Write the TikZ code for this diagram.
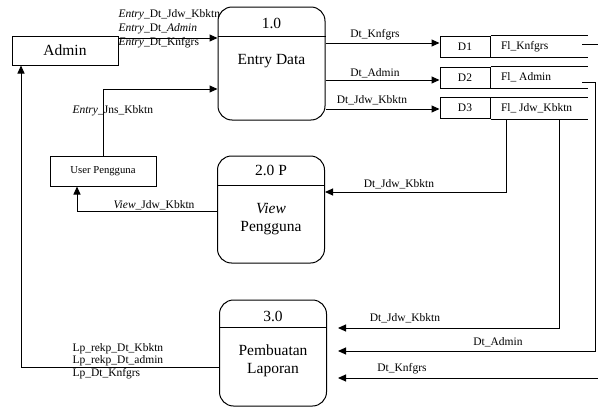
\documentclass[tikz,border=0pt]{standalone}
\usepackage{fontspec}
\setmainfont{Liberation Serif}
\usetikzlibrary{calc}
\usetikzlibrary{positioning}
\usetikzlibrary{arrows.meta}

\newcommand{\bigtxt}{\fontsize{15.5}{18}\selectfont}
\newcommand{\smalltxt}{\fontsize{11.5}{14}\selectfont}

\tikzset{
	entity/.style={draw, minimum width=106pt, minimum height=29pt, inner sep=0pt},
	process/.style={draw, rounded corners=14pt, minimum width=107pt, inner sep=0pt},
	cell/.style={draw, minimum width=50pt, minimum height=21pt, inner sep=0pt, font=\smalltxt},
	flow/.style={-{Triangle[length=8pt, width=7pt]}},
	lbl/.style={font=\smalltxt, inner sep=0pt},
}

\begin{document}
\begin{tikzpicture}[x=1pt, y=-1pt, line width=1pt]

	\useasboundingbox (0,0) rectangle (598,407);

% Define coordinates.

	%heights of the flows
	\coordinate (yEntry) at (0, 38);
	\coordinate (yJns) at (0, 89);
	\coordinate (yView) at (0, 211);
	\coordinate (yLp) at (0, 367);
	\coordinate (yKn) at (0, 43);
	\coordinate (yAd) at (0, 80);
	\coordinate (yJd) at (0, 109);
	\coordinate (yJd2) at (0, 192);
	\coordinate (yJd3) at (0, 328);
	\coordinate (yAd3) at (0, 351);
	\coordinate (yKn3) at (0, 378);

	%starts of the store lines
	\coordinate (s1) at (582, 44);
	\coordinate (s2) at (582, 82);

% Draw entities.

	\node[entity, font=\bigtxt] (admin) at (65, 50.5) {Admin};
	\node[entity, minimum height=30pt, font=\fontsize{10.7}{12}\selectfont] (user) at (103, 171) {User Pengguna};

% Draw processes.

	\node[process, minimum height=113pt] (p1) at (271.5, 63.5) {};
	\node[process, minimum height=107pt] (p2) at (271, 209.5) {};
	\node[process, minimum height=106pt] (p3) at (273, 353) {};

	\draw ([yshift=-30pt]p1.north west) -- ([yshift=-30pt]p1.north east);
	\draw ([yshift=-30pt]p2.north west) -- ([yshift=-30pt]p2.north east);
	\draw ([yshift=-28pt]p3.north west) -- ([yshift=-28pt]p3.north east);

	\node[font=\bigtxt] (p1num) at ([yshift=-17pt]p1.north) {1.0};
	\node[font=\bigtxt] (p2num) at ([yshift=-15pt]p2.north) {2.0 P};
	\node[font=\bigtxt] (p3num) at ([yshift=-17pt]p3.north) {3.0};

	\node[font=\bigtxt] (p1txt) at (271.5, 61) {Entry Data};
	\node[font=\bigtxt, align=center] (p2txt) at (271, 219) {\textit{View}\\Pengguna};
	\node[font=\bigtxt, align=center] (p3txt) at (273, 361) {Pembuatan\\Laporan};

% Draw data stores.

	\foreach \i/\y/\name in {1/46.5/Fl\_Knfgrs, 2/77.5/Fl\_ Admin, 3/108/Fl\_ Jdw\_Kbktn}{
		\node[cell] (d\i) at (465, \y) {D\i};
		\node[lbl, right=10pt of d\i] (f\i) {\name};
		\draw (d\i.north east) -- ++(97, 0);
		\draw (d\i.south east) -- ++(97, 0);
	}

% Draw flows.

	\draw[flow] (admin.east |- yEntry) -- (p1.west |- yEntry);
	\draw[flow] (user.north) |- (p1.west |- yJns);
	\draw[flow] (p2.west |- yView) -| ([xshift=-26pt]user.south);
	\draw[flow] (p3.west |- yLp) -| ([xshift=-44pt]admin.south);

	\draw[flow] (p1.east |- yKn) -- (d1.west |- yKn);
	\draw[flow] (p1.east |- yAd) -- (d2.west |- yAd);
	\draw[flow] (p1.east |- yJd) -- (d3.west |- yJd);

	\draw[flow] ([xshift=16pt]d3.south east) |- (p2.east |- yJd2);
	\draw[flow] ([xshift=69pt]d3.south east) |- ([xshift=11pt]p3.east |- yJd3);
	\draw[flow] (s2) -- ++(13, 0) |- ([xshift=11pt]p3.east |- yAd3);
	\draw[flow] (s1) -- ++(30, 0) |- ([xshift=11pt]p3.east |- yKn3);

% Draw flow labels.

	\node[lbl, anchor=west, align=left] (lEntry) at (118, 29) {\textit{Entry}\_Dt\_Jdw\_Kbktn\\\textit{Entry}\_Dt\_\textit{Admin}\\\textit{Entry}\_Dt\_Knfgrs};
	\node[lbl, anchor=west] (lJns) at (72, 111) {\textit{Entry}\_Jns\_Kbktn};
	\node[lbl] (lView) at (154, 205) {\textit{View}\_Jdw\_Kbktn};
	\node[lbl, anchor=west, align=left, font=\fontsize{11.5}{12.5}\selectfont] (lLp) at (72, 361) {Lp\_rekp\_Dt\_Kbktn\\Lp\_rekp\_Dt\_admin\\Lp\_Dt\_Knfgrs};

	\node[lbl] (lKn) at (375, 35) {Dt\_Knfgrs};
	\node[lbl] (lAd) at (375, 73) {Dt\_Admin};
	\node[lbl] (lJd) at (372, 100) {Dt\_Jdw\_Kbktn};
	\node[lbl] (lJd2) at (399, 184) {Dt\_Jdw\_Kbktn};
	\node[lbl] (lJd3) at (405, 318) {Dt\_Jdw\_Kbktn};
	\node[lbl] (lAd3) at (498, 342) {Dt\_Admin};
	\node[lbl] (lKn3) at (402, 369) {Dt\_Knfgrs};

\end{tikzpicture}
\end{document}
